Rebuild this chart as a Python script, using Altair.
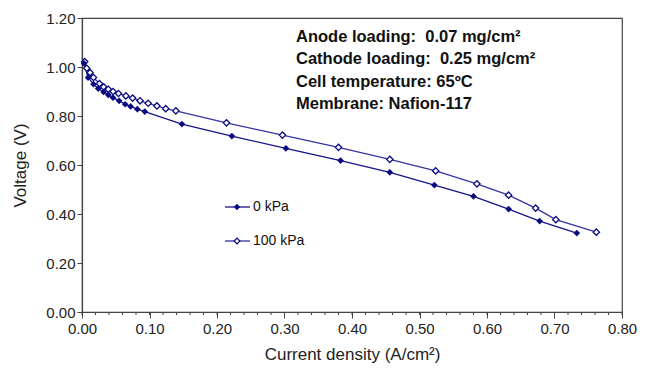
import altair as alt
import pandas as pd

# 0 kPa series (filled diamonds)
i0 = [0.003, 0.009, 0.017, 0.024, 0.032, 0.039, 0.046, 0.055, 0.064, 0.072, 0.082, 0.093,
      0.148, 0.222, 0.302, 0.383, 0.456, 0.522, 0.580, 0.632, 0.678, 0.733]
v0 = [1.015, 0.957, 0.930, 0.912, 0.898, 0.886, 0.875, 0.862, 0.848, 0.839, 0.828, 0.818,
      0.767, 0.718, 0.668, 0.618, 0.570, 0.518, 0.472, 0.420, 0.371, 0.322]

# 100 kPa series (open diamonds)
i100 = [0.004, 0.007, 0.012, 0.017, 0.026, 0.032, 0.039, 0.046, 0.054, 0.065, 0.075, 0.086,
        0.098, 0.111, 0.124, 0.139, 0.214, 0.297, 0.380, 0.456, 0.524, 0.585, 0.632, 0.672,
        0.702, 0.762]
v100 = [1.022, 0.995, 0.977, 0.957, 0.932, 0.919, 0.909, 0.900, 0.892, 0.882, 0.873, 0.862,
        0.852, 0.841, 0.830, 0.821, 0.772, 0.722, 0.672, 0.623, 0.576, 0.523, 0.477, 0.424,
        0.377, 0.326]

series_names = ["0 kPa", "100 kPa"]
notes = ["Anode loading:\u00a0 0.07 mg/cm\u00b2",
         "Cathode loading:\u00a0 0.25 mg/cm\u00b2",
         "Cell temperature: 65\u00baC",
         "Membrane: Nafion-117"]
minor_ticks = [round(0.02 * k, 2) for k in range(41)]

W, H = 540, 294
FONT = "Liberation Sans"
C0_LINE = "#14148a"
C1_LINE = "#3434a6"
C_MARK = "#0a0a80"

df0 = pd.DataFrame({"i": i0, "v": v0})
df1 = pd.DataFrame({"i": i100, "v": v100})

xscale = alt.Scale(domain=[0, 0.8], nice=False, zero=True)
yscale = alt.Scale(domain=[0, 1.2], nice=False)

xenc = alt.X("i:Q", scale=xscale,
             axis=alt.Axis(values=[round(0.1 * k, 1) for k in range(9)], format=".2f",
                           title="Current density (A/cm\u00b2)", grid=False, labelFlush=False,
                           tickSize=6, labelPadding=3, titlePadding=10))
yenc = alt.Y("v:Q", scale=yscale,
             axis=alt.Axis(values=[round(0.2 * k, 1) for k in range(7)], format=".2f",
                           title="Voltage (V)", grid=False, tickSize=5, labelPadding=2,
                           labelFlush=False, titlePadding=16))

line0 = alt.Chart(df0).mark_line(color=C0_LINE, strokeWidth=1.3).encode(x=xenc, y=yenc)
pts0 = alt.Chart(df0).mark_point(shape="diamond", filled=True, color=C_MARK, size=45,
                                 opacity=1).encode(x="i:Q", y="v:Q")
line1 = alt.Chart(df1).mark_line(color=C1_LINE, strokeWidth=1.3).encode(x="i:Q", y="v:Q")
pts1 = alt.Chart(df1).mark_point(shape="diamond", filled=True, fill="white", stroke=C_MARK,
                                 strokeWidth=1.3, size=40, opacity=1).encode(x="i:Q", y="v:Q")

minor = alt.Chart(pd.DataFrame({"m": minor_ticks})).mark_rule(
    color="#444", strokeWidth=1).encode(
    x=alt.X("m:Q", scale=xscale), y=alt.value(H), y2=alt.value(H + 3))

# legend
leg = pd.DataFrame({"name": series_names, "ly": [189, 223]})
leg_line0 = alt.Chart(leg.iloc[[0]]).mark_rule(color=C0_LINE, strokeWidth=1.3).encode(
    x=alt.value(143), x2=alt.value(168), y=alt.Y("ly:Q", scale=None))
leg_line1 = alt.Chart(leg.iloc[[1]]).mark_rule(color=C1_LINE, strokeWidth=1.3).encode(
    x=alt.value(143), x2=alt.value(168), y=alt.Y("ly:Q", scale=None))
leg_pt0 = alt.Chart(leg.iloc[[0]]).mark_point(shape="diamond", filled=True, color=C_MARK,
                                              size=40, opacity=1).encode(
    x=alt.value(155), y=alt.Y("ly:Q", scale=None))
leg_pt1 = alt.Chart(leg.iloc[[1]]).mark_point(shape="diamond", filled=True, fill="white",
                                              stroke=C_MARK, strokeWidth=1.2, size=32,
                                              opacity=1).encode(
    x=alt.value(155), y=alt.Y("ly:Q", scale=None))
leg_txt = alt.Chart(leg).mark_text(align="left", baseline="middle", font=FONT, fontSize=14,
                                   color="#111").encode(
    x=alt.value(171), y=alt.Y("ly:Q", scale=None), text="name:N")

notes_df = pd.DataFrame({"t": notes, "ny": [19, 41, 64, 86]})
notes_txt = alt.Chart(notes_df).mark_text(align="left", baseline="middle", font=FONT,
                                          fontSize=16.5, fontWeight="bold",
                                          color="#111").encode(
    x=alt.value(214), y=alt.Y("ny:Q", scale=None), text="t:N")

chart = alt.layer(line0, line1, pts1, pts0, minor, leg_line0, leg_line1, leg_pt0, leg_pt1,
                  leg_txt, notes_txt).properties(
    width=W, height=H,
    autosize=alt.AutoSizeParams(type="none"),
    padding={"left": 82, "top": 18, "right": 23, "bottom": 57},
).configure_view(stroke="#444", strokeWidth=1.2).configure_axis(
    labelFont=FONT, titleFont=FONT, labelFontSize=15, titleFontSize=17,
    labelColor="#222", titleColor="#222", domainColor="#444", tickColor="#444",
    titleFontWeight="normal", domainWidth=1.2)

chart.save("out.html", embed_options={"renderer": "svg", "actions": False})
